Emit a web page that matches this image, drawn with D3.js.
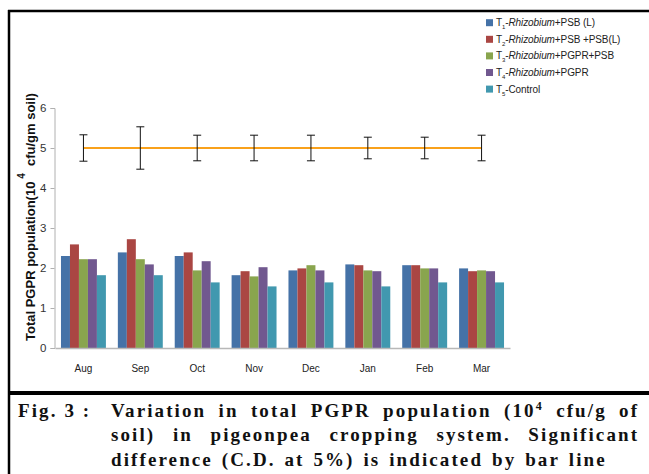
<!DOCTYPE html>
<html>
<head>
<meta charset="utf-8">
<script src="https://cdn.jsdelivr.net/npm/d3@7"></script>
<style>
  body { margin: 0; background: #fff; }
  svg { display: block; }
</style>
</head>
<body>
<div id="chart"></div>
<script>
/* DATA */
const months = ["Aug", "Sep", "Oct", "Nov", "Dec", "Jan", "Feb", "Mar"];
const seriesKeys = ["T1", "T2", "T3", "T4", "T5"];
const t1 = [2.30, 2.39, 2.30, 1.82, 1.94, 2.09, 2.07, 1.99];
const t2 = [2.59, 2.72, 2.39, 1.92, 1.99, 2.07, 2.07, 1.92];
const t3 = [2.22, 2.22, 1.94, 1.79, 2.07, 1.94, 1.99, 1.94];
const t4 = [2.22, 2.09, 2.17, 2.02, 1.94, 1.92, 1.99, 1.92];
const t5 = [1.82, 1.82, 1.64, 1.54, 1.64, 1.54, 1.64, 1.64];
const cdLine = [5, 5, 5, 5, 5, 5, 5, 5];
const cdErr = [0.33, 0.53, 0.32, 0.32, 0.32, 0.27, 0.27, 0.32];
const yTicks = [0, 1, 2, 3, 4, 5, 6];
const legendItems = [
  { n: "1", name: "Rhizobium", rest: "+PSB (L)" },
  { n: "2", name: "Rhizobium", rest: "+PSB +PSB(L)" },
  { n: "3", name: "Rhizobium", rest: "+PGPR+PSB" },
  { n: "4", name: "Rhizobium", rest: "+PGPR" },
  { n: "5", name: "", rest: "Control" }
];
const colors = ["#4572a7", "#aa4643", "#89a54e", "#71588f", "#4198af"];

const width = 649;
const height = 474;
const values = [t1, t2, t3, t4, t5];

const svg = d3.select("#chart").append("svg")
  .attr("width", width)
  .attr("height", height);

/* SCALES */
const x0 = d3.scaleBand()
  .domain(months)
  .range([55, 510])
  .paddingInner(0.21)
  .paddingOuter(0.105);

const x1 = d3.scaleBand()
  .domain(seriesKeys)
  .range([0, x0.bandwidth()]);

const y = d3.scaleLinear()
  .domain([0, 6])
  .range([348, 108]);

/* BARS */
const groups = svg.selectAll(".grp")
  .data(months)
  .join("g")
  .attr("class", "grp")
  .attr("transform", d => `translate(${x0(d)},0)`);

groups.selectAll("rect")
  .data((m, i) => seriesKeys.map((k, j) => ({ key: k, v: values[j][i], c: colors[j] })))
  .join("rect")
  .attr("x", d => x1(d.key))
  .attr("y", d => y(d.v))
  .attr("width", x1.bandwidth())
  .attr("height", d => y(0) - y(d.v))
  .attr("fill", d => d.c);

/* AXES */
const yAxis = svg.append("g")
  .attr("transform", "translate(54.5,0)")
  .call(d3.axisLeft(y).tickValues(yTicks).tickFormat(d3.format("d")).tickSize(4).tickPadding(4));
yAxis.select(".domain").attr("stroke", "#b0b0b0");
yAxis.selectAll(".tick line").attr("stroke", "#b0b0b0");
yAxis.selectAll(".tick text")
  .attr("fill", "#333")
  .style("font-family", "'Liberation Sans', Arial, sans-serif")
  .style("font-size", "11.5px");

const xAxis = svg.append("g")
  .attr("transform", "translate(0,348)")
  .call(d3.axisBottom(x0).tickSize(0).tickPadding(17));
xAxis.select(".domain").attr("stroke", "#b8b8b8").attr("stroke-width", 1.6);
xAxis.selectAll(".tick text")
  .attr("fill", "#222")
  .style("font-family", "'Liberation Sans Narrow', 'Liberation Sans', Arial, sans-serif")
  .style("font-size", "10px");

/* C.D. LINE + ERROR BARS */
const cx = m => x0(m) + x0.bandwidth() / 2;
svg.append("path")
  .datum(months)
  .attr("fill", "none")
  .attr("stroke", "#f9a11b")
  .attr("stroke-width", 2)
  .attr("d", d3.line().x(m => cx(m)).y((m, i) => y(cdLine[i])));

const eb = svg.selectAll(".eb")
  .data(months)
  .join("g")
  .attr("class", "eb")
  .attr("stroke", "#111")
  .attr("stroke-width", 1);
eb.append("line")
  .attr("x1", m => cx(m)).attr("x2", m => cx(m))
  .attr("y1", (m, i) => y(cdLine[i] + cdErr[i]))
  .attr("y2", (m, i) => y(cdLine[i] - cdErr[i]));
eb.append("line")
  .attr("x1", m => cx(m) - 4).attr("x2", m => cx(m) + 4)
  .attr("y1", (m, i) => y(cdLine[i] + cdErr[i]))
  .attr("y2", (m, i) => y(cdLine[i] + cdErr[i]));
eb.append("line")
  .attr("x1", m => cx(m) - 4).attr("x2", m => cx(m) + 4)
  .attr("y1", (m, i) => y(cdLine[i] - cdErr[i]))
  .attr("y2", (m, i) => y(cdLine[i] - cdErr[i]));

/* Y TITLE */
const yt = svg.append("text")
  .attr("transform", "translate(35,341) rotate(-90)")
  .style("font-family", "'Liberation Sans', Arial, sans-serif")
  .style("font-size", "13px")
  .style("font-weight", "bold")
  .attr("fill", "#111");
yt.append("tspan").text("Total PGPR population(10");
yt.append("tspan").attr("dx", 3).attr("dy", -10).style("font-size", "10px").text("4");
yt.append("tspan").attr("dx", 7).attr("dy", 10).text("cfu/gm soil)");

/* LEGEND */
const leg = svg.selectAll(".leg")
  .data(legendItems)
  .join("g")
  .attr("class", "leg")
  .attr("transform", (d, i) => `translate(486,${22.7 + i * 16.6})`);
leg.append("rect")
  .attr("x", 0).attr("y", -3.5)
  .attr("width", 7).attr("height", 7)
  .attr("fill", (d, i) => colors[i]);
const lt = leg.append("text")
  .attr("x", 10).attr("y", 3.5)
  .style("font-family", "'Liberation Sans', Arial, sans-serif")
  .style("font-size", "10px")
  .style("letter-spacing", "-0.1px")
  .attr("fill", "#222");
lt.append("tspan").text("T");
lt.append("tspan").attr("dy", 3).style("font-size", "6px").text(d => d.n);
lt.append("tspan").attr("dy", -3).text("-");
lt.append("tspan").style("font-style", "italic").text(d => d.name);
lt.append("tspan").text(d => d.rest);

/* FRAME */
const frame = svg.append("g").attr("stroke", "#000");
frame.append("line").attr("x1", 8).attr("x2", width).attr("y1", 11).attr("y2", 11).attr("stroke-width", 2.5);
frame.append("line").attr("x1", 9).attr("x2", 9).attr("y1", 10).attr("y2", height).attr("stroke-width", 2.5);
frame.append("line").attr("x1", 8).attr("x2", width).attr("y1", 393).attr("y2", 393).attr("stroke-width", 4);

/* CAPTION */
const capFont = "'Liberation Serif', 'Times New Roman', serif";
const capLS = 2.1;
const capLines = [
  { y: 417, words: ["Variation", "in", "total", "PGPR", "population", "(10^4", "cfu/g", "of"], justify: true },
  { y: 441, words: ["soil)", "in", "pigeonpea", "cropping", "system.", "Significant"], justify: true },
  { y: 466, words: ["difference", "(C.D.", "at", "5%)", "is", "indicated", "by", "bar", "line"], justify: false }
];
const capStyle = sel => sel
  .style("font-family", capFont)
  .style("font-size", "19px")
  .style("font-weight", "bold")
  .style("letter-spacing", capLS + "px")
  .attr("fill", "#111");

svg.append("text").attr("x", 18).attr("y", 417).call(capStyle)
  .attr("xml:space", "preserve").text("Fig. 3 :");

const left = 111, right = 637, spaceW = 11;
capLines.forEach(line => {
  const g = svg.append("g");
  const ws = line.words.map(w => {
    const t = g.append("text").attr("y", line.y).call(capStyle);
    if (w.includes("^")) {
      const [a, b] = w.split("^");
      t.append("tspan").text(a);
      t.append("tspan").attr("dy", -7).style("font-size", "12px").text(b);
    } else {
      t.text(w);
    }
    return { t, w: t.node().getComputedTextLength() - capLS };
  });
  const total = d3.sum(ws, d => d.w);
  const gap = line.justify ? (right - left - total) / (ws.length - 1) : spaceW;
  let xx = left;
  ws.forEach(d => { d.t.attr("x", xx); xx += d.w + gap; });
});
</script>
</body>
</html>
